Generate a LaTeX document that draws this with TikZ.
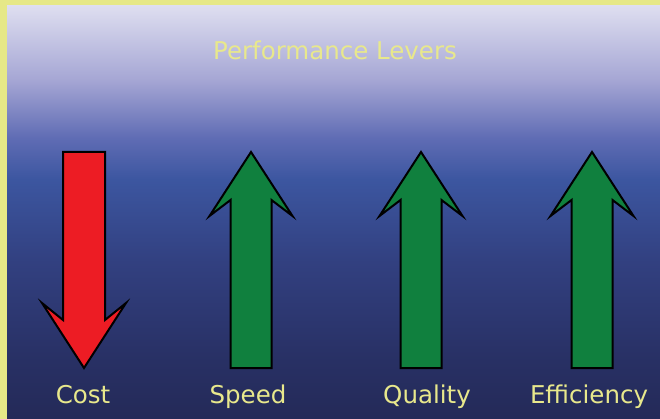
\documentclass[tikz,border=0pt]{standalone}
\usepackage{fontspec}
\setmainfont{DejaVu Sans}

\definecolor{rimyellow}{RGB}{230,232,135}
\definecolor{textyellow}{RGB}{232,232,140}
\definecolor{costred}{RGB}{237,28,36}
\definecolor{levergreen}{RGB}{16,128,62}
\definecolor{bgtop}{RGB}{222,222,240}
\definecolor{bghigh}{RGB}{165,166,212}
\definecolor{bglav}{RGB}{95,108,180}
\definecolor{bgblue}{RGB}{60,86,160}
\definecolor{bgmid}{RGB}{50,64,128}
\definecolor{bglow}{RGB}{40,48,100}
\definecolor{bgbot}{RGB}{36,42,88}

\pgfdeclareverticalshading{leverbg}{100bp}{color(0bp)=(bgbot); color(25bp)=(bgbot);
  color(32bp)=(bglow); color(44bp)=(bgmid); color(54bp)=(bgblue);
  color(59bp)=(bglav); color(66bp)=(bghigh); color(75bp)=(bgtop); color(100bp)=(bgtop)}

% lever arrows, #1 = centre x
\newcommand{\leverup}[1]{%
  \draw[lever, fill=levergreen] (#1-20.5,368) -- (#1-20.5,200) -- (#1-41.5,216)
    -- (#1,152) -- (#1+41.5,216) -- (#1+20.5,200) -- (#1+20.5,368) -- cycle;}
\newcommand{\leverdown}[1]{%
  \draw[lever, fill=costred] (#1-21,152) -- (#1-21,320) -- (#1-42,303)
    -- (#1,368) -- (#1+42,303) -- (#1+21,320) -- (#1+21,152) -- cycle;}

\begin{document}
\begin{tikzpicture}[
        x=1pt, y=-1pt,
    ]

    \tikzstyle{lever} = [draw=black, line width=2pt]
    \tikzstyle{lbl} = [anchor=base, inner sep=0pt, text=textyellow,
                       font=\fontsize{24.5}{28}\selectfont]

    \useasboundingbox (0,0) rectangle (660,419);
    % Background
    \fill[rimyellow] (0,0) rectangle (660,419);
    \shade[shading=leverbg] (7,6) rectangle (660,419);

    % Arrows
    \leverdown{84}
    \leverup{251}
    \leverup{421}
    \leverup{592}

    % Nodes
    \node[lbl] (title) at (335,60) {Performance Levers};
    \node[lbl] (cost) at (83,403) {Cost};
    \node[lbl] (speed) at (248,403) {Speed};
    \node[lbl] (quality) at (427,403) {Quality};
    \node[lbl] (efficiency) at (589,403) {Efficiency};

    \end{tikzpicture}
\end{document}
